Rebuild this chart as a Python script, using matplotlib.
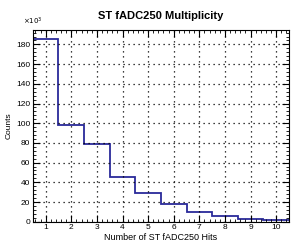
import numpy as np
import matplotlib.pyplot as plt
from matplotlib.ticker import MultipleLocator

plt.rcParams['font.family'] = ['Liberation Sans', 'DejaVu Sans']

# hits per event (bin centers) and counts in thousands
hits = [1, 2, 3, 4, 5, 6, 7, 8, 9, 10]
counts_k = [186, 98.5, 78.5, 45.5, 29.3, 17.5, 9.8, 6.0, 3.0, 1.4]

fig = plt.figure(figsize=(2.91, 2.41), dpi=100)
ax = fig.add_axes([0.113, 0.080, 0.880, 0.797])

edges = np.append(np.array(hits) - 0.5, hits[-1] + 0.5)
ax.stairs(counts_k, edges, color='#2a2a9a', linewidth=1.3, baseline=None)

ax.set_xlim(0.5, 10.5)
ax.set_ylim(0, 195)
ax.xaxis.set_major_locator(MultipleLocator(1))
ax.xaxis.set_minor_locator(MultipleLocator(0.2))
ax.yaxis.set_major_locator(MultipleLocator(20))
ax.yaxis.set_minor_locator(MultipleLocator(4))
ax.tick_params(which='both', direction='in', top=True, right=True, labelsize=6, pad=2)
ax.tick_params(which='major', length=5, width=0.8)
ax.tick_params(which='minor', length=2.5, width=0.6)
ax.grid(True, which='major', color='black', linestyle=(0, (1, 3)), linewidth=0.9)
for s in ax.spines.values():
    s.set_linewidth(0.8)

ax.set_title("ST fADC250 Multiplicity", fontsize=8, fontweight='bold', pad=8)
ax.set_xlabel("Number of ST fADC250 Hits", fontsize=6.5, labelpad=1)
ax.set_ylabel("Counts", fontsize=6, labelpad=2)
ax.text(0.0, 1.012, r"$\times10^{3}$", transform=ax.transAxes, fontsize=5, ha='center', va='bottom')

fig.savefig("out.png", dpi=100)
